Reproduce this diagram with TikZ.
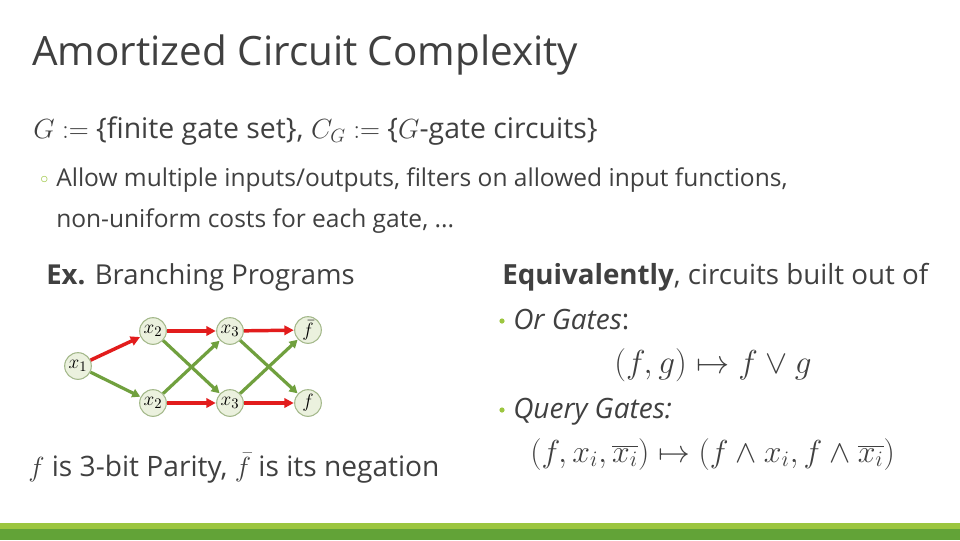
\documentclass[tikz,border=0pt]{standalone}
\usepackage{graphicx}
\usepackage{fontspec}
\setmainfont{Open Sans}[Ligatures={NoCommon}]
\usetikzlibrary{arrows.meta}
\definecolor{txt}{HTML}{404040}
\definecolor{lgreen}{HTML}{9CC63F}
\definecolor{dgreen}{HTML}{62A337}
\definecolor{nodefill}{HTML}{EBF1DE}
\definecolor{nodeline}{HTML}{A3B88A}
\definecolor{redarc}{HTML}{E21C1C}
\definecolor{greenarc}{HTML}{70A03E}
\begin{document}
\begin{tikzpicture}[x=0.75pt,y=-0.75pt,
  txtnode/.style={anchor=base west,inner sep=0pt,text=txt},
  bp/.style={circle,draw=nodeline,line width=0.8pt,fill=nodefill,minimum size=20pt,inner sep=0pt,font=\fontsize{15}{17}\selectfont},
  redarrow/.style={draw=redarc,line width=2.6pt,-{Triangle[length=7pt,width=7pt]},shorten >=0.3pt},
  greenarrow/.style={draw=greenarc,line width=2.4pt,-{Triangle[length=6pt,width=6.5pt]},shorten >=0.3pt}]
\useasboundingbox (0,0) rectangle (960,540);
\fill[white] (0,0) rectangle (960,540);
% bottom bars
\fill[lgreen] (0,523) rectangle (960,529);
\fill[dgreen] (0,529) rectangle (960,540);
% title
\node[txtnode,font=\fontsize{30.3}{36}\selectfont] (title) at (32,65) {Amortized Circuit Complexity};
% line 1
\node[txtnode,font=\fontsize{21.3}{25}\selectfont] (l1) at (33,138) {$G$ $\mathrel{:=}$ \{finite gate set\}, $C_G$ $\mathrel{:=}$ \{$G$-gate circuits\}};
% sub bullet
\node[txtnode,text=lgreen,font=\fontsize{12}{14}\selectfont] (b0) at (40,183) {$\circ$};
\node[txtnode,font=\fontsize{18.4}{22}\selectfont] (l2) at (56,186) {Allow multiple inputs/outputs, filters on allowed input functions,};
\node[txtnode,font=\fontsize{18.4}{22}\selectfont] (l3) at (56,227) {non-uniform costs for each gate, ...};
% Ex
\node[txtnode,font=\fontsize{20.6}{25}\selectfont] (ex) at (46,284) {\textbf{Ex.} Branching Programs};
% right column
\node[txtnode,font=\fontsize{20.8}{25}\selectfont] (eq) at (502,284) {\textbf{Equivalently}, circuits built out of};
\fill[lgreen] (502,321) circle (2.6);
\node[txtnode,font=\fontsize{21}{25}\selectfont] (or) at (513,329) {\textit{Or Gates}:};
\node[txtnode,font=\fontsize{23.6}{28}\selectfont] (orf) at (614,373) {$(f,g)\mapsto f\vee g$};
\fill[lgreen] (502,410) circle (2.6);
\node[txtnode,font=\fontsize{21}{25}\selectfont] (qg) at (513,418) {\textit{Query Gates:}};
\node[txtnode,font=\fontsize{20.74}{25}\selectfont] (qgf) at (530,462) {\scalebox{1.149}{$(f,x_i,\overline{x_i})\mapsto(f\wedge x_i, f\wedge\overline{x_i})$}};
% bottom left text
\node[txtnode,font=\fontsize{21.1}{25}\selectfont] (par) at (28,476) {$f$ is 3-bit Parity, $\bar{f}$ is its negation};
% branching program
\node[bp] (x1) at (78,366) {$x_1$};
\node[bp] (x2t) at (153,331) {$x_2$};
\node[bp] (x3t) at (230,331) {$x_3$};
\node[bp] (fb) at (308,330) {$\bar f$};
\node[bp] (x2b) at (153,403) {$x_2$};
\node[bp] (x3b) at (230,403) {$x_3$};
\node[bp] (fo) at (308,403) {$f$};
\draw[greenarrow] (x1) -- (x2b);
\draw[greenarrow] (x2t) -- (x3b);
\draw[greenarrow] (x2b) -- (x3t);
\draw[greenarrow] (x3t) -- (fo);
\draw[greenarrow] (x3b) -- (fb);
\draw[redarrow] (x1) -- (x2t);
\draw[redarrow] (x2t) -- (x3t);
\draw[redarrow] (x2b) -- (x3b);
\draw[redarrow] (x3t) -- (fb);
\draw[redarrow] (x3b) -- (fo);
\end{tikzpicture}
\end{document}
